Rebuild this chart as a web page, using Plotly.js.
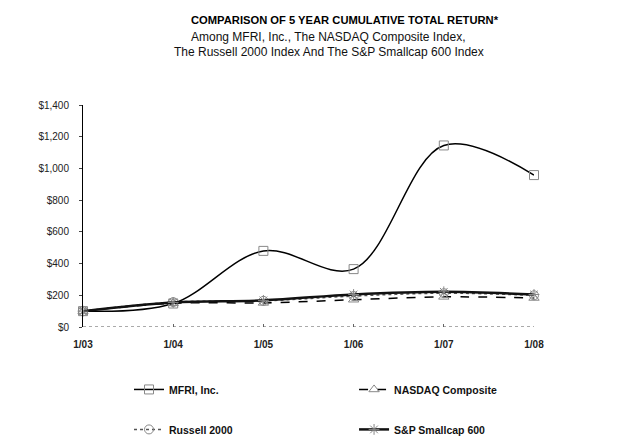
<!DOCTYPE html>
<html>
<head>
<meta charset="utf-8">
<script src="https://cdn.plot.ly/plotly-3.0.1.min.js"></script>
<style>
  html, body { margin: 0; padding: 0; background: #fff; }
  #chart { width: 624px; height: 447px; }
</style>
</head>
<body>
<div id="chart"></div>
<script>
// data
const periods = ['1/03', '1/04', '1/05', '1/06', '1/07', '1/08'];
const mfri = [100, 148, 480, 365, 1145, 958];
const nasdaq = [100, 150, 152, 172, 190, 183];
const russell = [100, 157, 165, 195, 213, 200];
const sp600 = [100, 155, 168, 205, 222, 205];

const tickVals = [0, 200, 400, 600, 800, 1000, 1200, 1400];
const tickText = ['$0', '$200', '$400', '$600', '$800', '$1,000', '$1,200', '$1,400'];

const fontFam = 'Liberation Sans, Arial, sans-serif';

function series(name, y, dash, width, symbol, lineColor, leg) {
  return {
    x: periods, y: y, name: name, type: 'scatter', mode: 'lines+markers',
    line: { color: lineColor, width: width, dash: dash, shape: 'spline', smoothing: 1 },
    marker: { symbol: symbol, size: 9, color: '#888', line: { color: '#888', width: 1 } },
    cliponaxis: false,
    legend: leg
  };
}

const data = [
  series('MFRI, Inc.', mfri, 'solid', 1.5, 'square-open', '#000', 'legend'),
  series('NASDAQ Composite', nasdaq, 'dash', 1.5, 'triangle-up-open', '#000', 'legend2'),
  series('Russell 2000', russell, 'dot', 1.5, 'circle-open', '#555', 'legend3'),
  series('S&P Smallcap 600', sp600, 'solid', 2.5, 'asterisk-open', '#111', 'legend4')
];

function legendAt(x, y) {
  return {
    x: x, y: y, xanchor: 'left', yanchor: 'top',
    font: { family: fontFam, size: 10.5, color: '#111', weight: 'bold' },
    bgcolor: 'rgba(0,0,0,0)', itemwidth: 30
  };
}

const layout = {
  width: 624, height: 447,
  margin: { l: 83, r: 90, t: 105, b: 120, autoexpand: false },
  paper_bgcolor: '#fff', plot_bgcolor: '#fff',
  showlegend: true,
  font: { family: fontFam, color: '#222' },
  xaxis: {
    type: 'category', range: [0, 5],
    showgrid: false, zeroline: false, showline: false,
    ticks: 'inside', ticklen: 3, tickcolor: '#666',
    tickfont: { size: 10, color: '#222', weight: 'bold' },
    ticklabelstandoff: 10
  },
  yaxis: {
    range: [0, 1400], tickvals: tickVals, ticktext: tickText,
    showgrid: false, zeroline: false,
    showline: true, linecolor: '#000', linewidth: 1,
    ticks: 'outside', ticklen: 3, tickcolor: '#444',
    tickfont: { size: 10, color: '#222' },
    ticklabelstandoff: 8
  },
  shapes: [
    { type: 'line', xref: 'paper', yref: 'y', x0: 0, x1: 1, y0: 0, y1: 0,
      line: { color: '#555', width: 1, dash: 'dot' } }
  ],
  legend: legendAt(0.102, -0.216),
  legend2: legendAt(0.601, -0.216),
  legend3: legendAt(0.102, -0.396),
  legend4: legendAt(0.601, -0.396),
  annotations: [
    { text: 'COMPARISON OF 5 YEAR CUMULATIVE TOTAL RETURN*', xref: 'paper', yref: 'paper',
      x: 0.58, y: 1.385, xanchor: 'center', yanchor: 'middle', showarrow: false,
      font: { family: fontFam, size: 11.2, color: '#000', weight: 'bold' } },
    { text: 'Among MFRI, Inc., The NASDAQ Composite Index,', xref: 'paper', yref: 'paper',
      x: 0.545, y: 1.306, xanchor: 'center', yanchor: 'middle', showarrow: false,
      font: { family: fontFam, size: 12, color: '#111' } },
    { text: 'The Russell 2000 Index And The S&P Smallcap 600 Index', xref: 'paper', yref: 'paper',
      x: 0.545, y: 1.238, xanchor: 'center', yanchor: 'middle', showarrow: false,
      font: { family: fontFam, size: 12, color: '#111' } }
  ]
};

Plotly.newPlot('chart', data, layout, { displayModeBar: false, staticPlot: true });
</script>
</body>
</html>
